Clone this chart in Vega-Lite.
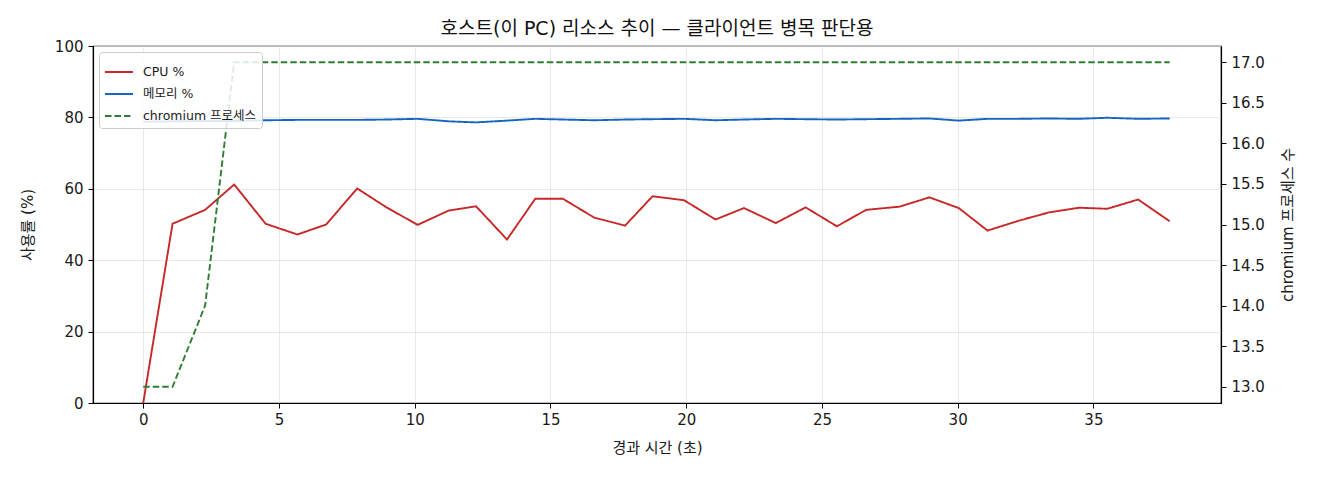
{
  "$schema": "https://vega.github.io/schema/vega-lite/v6.json",
  "autosize": "none",
  "width": 1128,
  "height": 357,
  "padding": {"left": 93, "top": 46, "right": 99, "bottom": 77},
  "background": "white",
  "title": {
    "text": "호스트(이 PC) 리소스 추이 — 클라이언트 병목 판단용",
    "fontSize": 19,
    "fontWeight": "normal",
    "color": "#111",
    "anchor": "middle",
    "offset": 0
  },
  "data": {
    "values": [
      {"t": 0, "series": "CPU %", "v": 0},
      {"t": 1.08, "series": "CPU %", "v": 50.2},
      {"t": 2.28, "series": "CPU %", "v": 54.1},
      {"t": 3.35, "series": "CPU %", "v": 61.2},
      {"t": 4.51, "series": "CPU %", "v": 50.2},
      {"t": 5.68, "series": "CPU %", "v": 47.2},
      {"t": 6.74, "series": "CPU %", "v": 50.0},
      {"t": 7.88, "series": "CPU %", "v": 60.1},
      {"t": 8.96, "series": "CPU %", "v": 54.8},
      {"t": 10.11, "series": "CPU %", "v": 49.9},
      {"t": 11.25, "series": "CPU %", "v": 53.9},
      {"t": 12.26, "series": "CPU %", "v": 55.1},
      {"t": 13.40, "series": "CPU %", "v": 45.8},
      {"t": 14.44, "series": "CPU %", "v": 57.2},
      {"t": 15.46, "series": "CPU %", "v": 57.2},
      {"t": 16.62, "series": "CPU %", "v": 51.9},
      {"t": 17.75, "series": "CPU %", "v": 49.7},
      {"t": 18.76, "series": "CPU %", "v": 57.9},
      {"t": 19.92, "series": "CPU %", "v": 56.8},
      {"t": 21.08, "series": "CPU %", "v": 51.4},
      {"t": 22.13, "series": "CPU %", "v": 54.6},
      {"t": 23.30, "series": "CPU %", "v": 50.4},
      {"t": 24.40, "series": "CPU %", "v": 54.8},
      {"t": 25.55, "series": "CPU %", "v": 49.5},
      {"t": 26.63, "series": "CPU %", "v": 54.1},
      {"t": 27.86, "series": "CPU %", "v": 55.0},
      {"t": 28.96, "series": "CPU %", "v": 57.6},
      {"t": 30.04, "series": "CPU %", "v": 54.6},
      {"t": 31.10, "series": "CPU %", "v": 48.3},
      {"t": 32.27, "series": "CPU %", "v": 51.1},
      {"t": 33.37, "series": "CPU %", "v": 53.4},
      {"t": 34.47, "series": "CPU %", "v": 54.7},
      {"t": 35.51, "series": "CPU %", "v": 54.4},
      {"t": 36.65, "series": "CPU %", "v": 57.0},
      {"t": 37.81, "series": "CPU %", "v": 50.9},
      {"t": 0, "series": "메모리 %", "v": 78.8},
      {"t": 1.08, "series": "메모리 %", "v": 78.9},
      {"t": 2.28, "series": "메모리 %", "v": 79.0},
      {"t": 3.35, "series": "메모리 %", "v": 79.0},
      {"t": 4.51, "series": "메모리 %", "v": 79.2},
      {"t": 5.68, "series": "메모리 %", "v": 79.3},
      {"t": 6.74, "series": "메모리 %", "v": 79.3},
      {"t": 7.88, "series": "메모리 %", "v": 79.3},
      {"t": 8.96, "series": "메모리 %", "v": 79.4},
      {"t": 10.11, "series": "메모리 %", "v": 79.6},
      {"t": 11.25, "series": "메모리 %", "v": 78.9},
      {"t": 12.26, "series": "메모리 %", "v": 78.6},
      {"t": 13.40, "series": "메모리 %", "v": 79.1},
      {"t": 14.44, "series": "메모리 %", "v": 79.6},
      {"t": 15.46, "series": "메모리 %", "v": 79.4},
      {"t": 16.62, "series": "메모리 %", "v": 79.2},
      {"t": 17.75, "series": "메모리 %", "v": 79.4},
      {"t": 18.76, "series": "메모리 %", "v": 79.5},
      {"t": 19.92, "series": "메모리 %", "v": 79.6},
      {"t": 21.08, "series": "메모리 %", "v": 79.2},
      {"t": 22.13, "series": "메모리 %", "v": 79.4},
      {"t": 23.30, "series": "메모리 %", "v": 79.6},
      {"t": 24.40, "series": "메모리 %", "v": 79.5},
      {"t": 25.55, "series": "메모리 %", "v": 79.4},
      {"t": 26.63, "series": "메모리 %", "v": 79.5},
      {"t": 27.86, "series": "메모리 %", "v": 79.6},
      {"t": 28.96, "series": "메모리 %", "v": 79.7},
      {"t": 30.04, "series": "메모리 %", "v": 79.1},
      {"t": 31.10, "series": "메모리 %", "v": 79.6},
      {"t": 32.27, "series": "메모리 %", "v": 79.6},
      {"t": 33.37, "series": "메모리 %", "v": 79.7},
      {"t": 34.47, "series": "메모리 %", "v": 79.6},
      {"t": 35.51, "series": "메모리 %", "v": 79.9},
      {"t": 36.65, "series": "메모리 %", "v": 79.6},
      {"t": 37.81, "series": "메모리 %", "v": 79.7},
      {"t": 0, "series": "chromium 프로세스", "v": 13},
      {"t": 1.08, "series": "chromium 프로세스", "v": 13},
      {"t": 2.28, "series": "chromium 프로세스", "v": 14},
      {"t": 3.35, "series": "chromium 프로세스", "v": 17},
      {"t": 4.51, "series": "chromium 프로세스", "v": 17},
      {"t": 5.68, "series": "chromium 프로세스", "v": 17},
      {"t": 6.74, "series": "chromium 프로세스", "v": 17},
      {"t": 7.88, "series": "chromium 프로세스", "v": 17},
      {"t": 8.96, "series": "chromium 프로세스", "v": 17},
      {"t": 10.11, "series": "chromium 프로세스", "v": 17},
      {"t": 11.25, "series": "chromium 프로세스", "v": 17},
      {"t": 12.26, "series": "chromium 프로세스", "v": 17},
      {"t": 13.40, "series": "chromium 프로세스", "v": 17},
      {"t": 14.44, "series": "chromium 프로세스", "v": 17},
      {"t": 15.46, "series": "chromium 프로세스", "v": 17},
      {"t": 16.62, "series": "chromium 프로세스", "v": 17},
      {"t": 17.75, "series": "chromium 프로세스", "v": 17},
      {"t": 18.76, "series": "chromium 프로세스", "v": 17},
      {"t": 19.92, "series": "chromium 프로세스", "v": 17},
      {"t": 21.08, "series": "chromium 프로세스", "v": 17},
      {"t": 22.13, "series": "chromium 프로세스", "v": 17},
      {"t": 23.30, "series": "chromium 프로세스", "v": 17},
      {"t": 24.40, "series": "chromium 프로세스", "v": 17},
      {"t": 25.55, "series": "chromium 프로세스", "v": 17},
      {"t": 26.63, "series": "chromium 프로세스", "v": 17},
      {"t": 27.86, "series": "chromium 프로세스", "v": 17},
      {"t": 28.96, "series": "chromium 프로세스", "v": 17},
      {"t": 30.04, "series": "chromium 프로세스", "v": 17},
      {"t": 31.10, "series": "chromium 프로세스", "v": 17},
      {"t": 32.27, "series": "chromium 프로세스", "v": 17},
      {"t": 33.37, "series": "chromium 프로세스", "v": 17},
      {"t": 34.47, "series": "chromium 프로세스", "v": 17},
      {"t": 35.51, "series": "chromium 프로세스", "v": 17},
      {"t": 36.65, "series": "chromium 프로세스", "v": 17},
      {"t": 37.81, "series": "chromium 프로세스", "v": 17}
    ]
  },
  "encoding": {
    "x": {
      "field": "t",
      "type": "quantitative",
      "title": "경과 시간 (초)",
      "scale": {"domain": [-1.85, 39.7], "nice": false, "zero": false},
      "axis": {"values": [0, 5, 10, 15, 20, 25, 30, 35], "grid": true, "labelPadding": 4, "titlePadding": 13}
    },
    "color": {
      "field": "series",
      "type": "nominal",
      "title": null,
      "scale": {
        "domain": ["CPU %", "메모리 %", "chromium 프로세스"],
        "range": ["#c62828", "#1565c0", "#2e7d32"]
      }
    },
    "strokeDash": {
      "field": "series",
      "type": "nominal",
      "title": null,
      "scale": {
        "domain": ["CPU %", "메모리 %", "chromium 프로세스"],
        "range": [[1, 0], [1, 0], [6.5, 3]]
      }
    }
  },
  "layer": [
    {
      "transform": [{"filter": "datum.series !== 'chromium 프로세스'"}],
      "mark": {"type": "line", "strokeWidth": 1.9},
      "encoding": {
        "y": {
          "field": "v",
          "type": "quantitative",
          "title": "사용률 (%)",
          "scale": {"domain": [0, 100], "nice": false},
          "axis": {"orient": "left", "values": [0, 20, 40, 60, 80, 100], "grid": true, "titlePadding": 19}
        }
      }
    },
    {
      "transform": [{"filter": "datum.series === 'chromium 프로세스'"}],
      "mark": {"type": "line", "strokeWidth": 1.9},
      "encoding": {
        "y": {
          "field": "v",
          "type": "quantitative",
          "title": "chromium 프로세스 수",
          "scale": {"domain": [12.8, 17.2], "nice": false, "zero": false},
          "axis": {
            "orient": "right",
            "values": [13, 13.5, 14, 14.5, 15, 15.5, 16, 16.5, 17],
            "format": ".1f",
            "grid": false,
            "titleAngle": 270,
            "titleBaseline": "top",
            "titlePadding": 16
          }
        }
      }
    }
  ],
  "resolve": {"scale": {"y": "independent"}},
  "config": {
    "font": "DejaVu Sans, Noto Sans CJK KR",
    "view": {"stroke": "#000", "strokeWidth": 1.2},
    "axis": {
      "domainColor": "#000",
      "domainWidth": 1.2,
      "tickColor": "#000",
      "tickSize": 5,
      "labelFontSize": 15,
      "labelColor": "#1a1a1a",
      "labelPadding": 5,
      "titleFontSize": 15,
      "titleFontWeight": "normal",
      "titleColor": "#1a1a1a",
      "gridColor": "#e3e3e3",
      "gridWidth": 0.8
    },
    "legend": {
      "orient": "top-left",
      "offset": 6,
      "padding": 5,
      "strokeColor": "#cccccc",
      "fillColor": "rgba(255,255,255,0.85)",
      "cornerRadius": 3,
      "symbolType": "stroke",
      "symbolSize": 784,
      "symbolStrokeWidth": 1.9,
      "labelFontSize": 12.5,
      "labelColor": "#1a1a1a",
      "labelOffset": 9,
      "rowPadding": 0
    }
  }
}
